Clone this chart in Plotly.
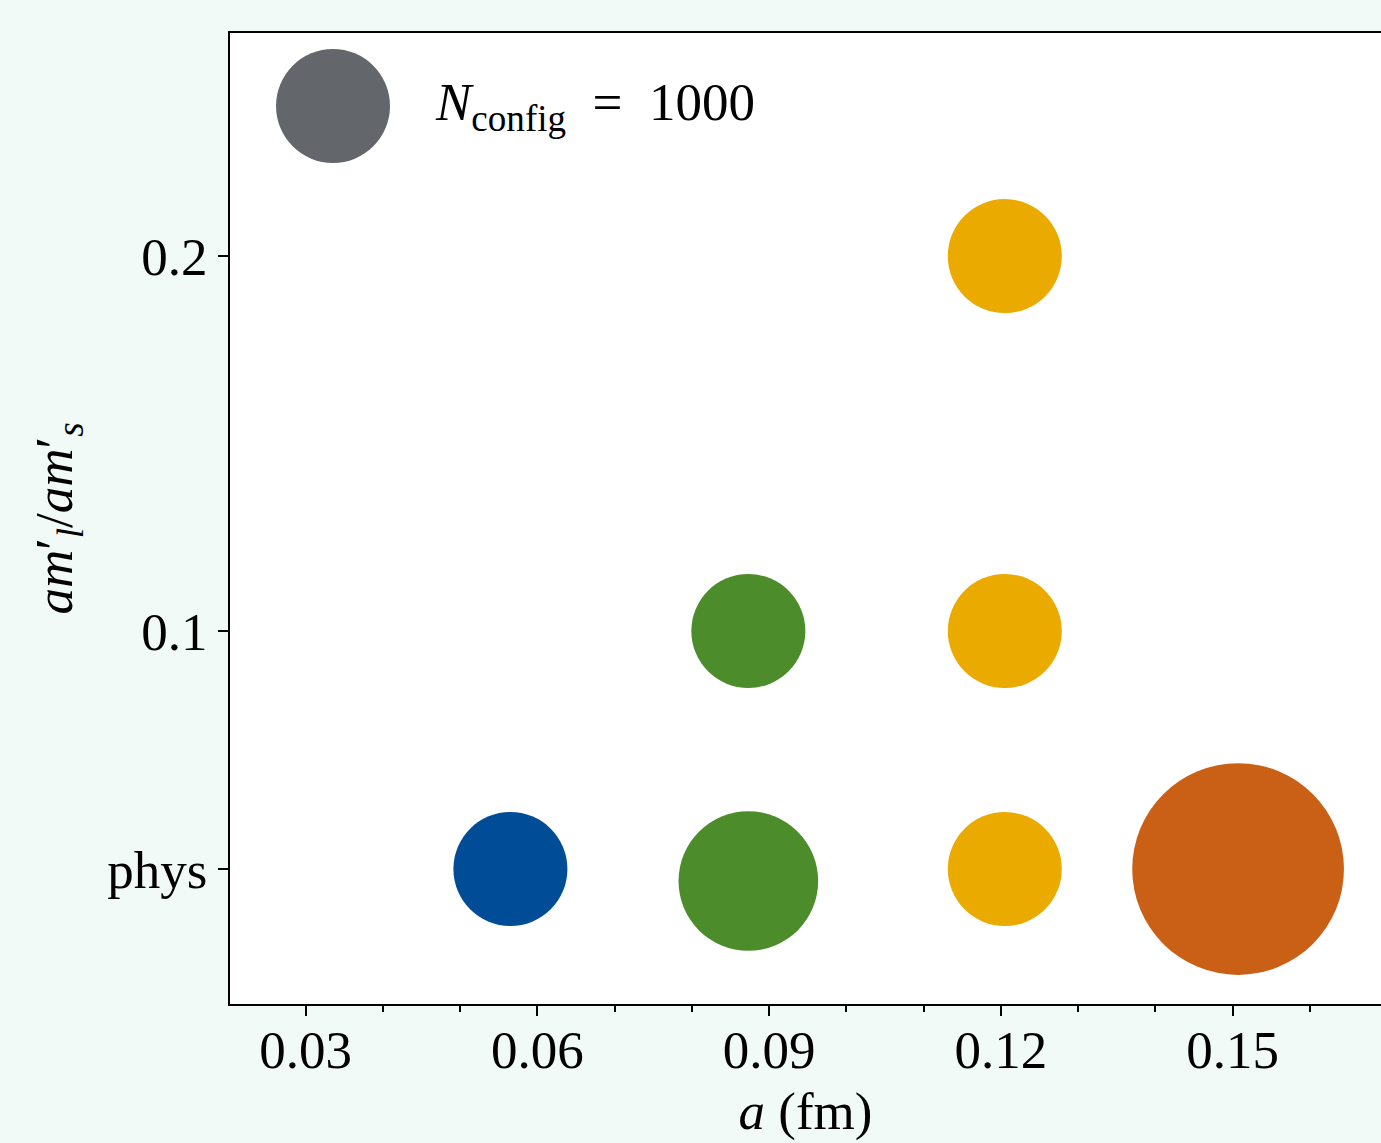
import plotly.graph_objects as go

# ---- data ----
PHYS = 0.0365
groups = ["a0.06", "a0.09", "a0.12", "a0.15"]
colors = ["#004c97", "#4c8c2b", "#eaaa00", "#ca6015"]
a_vals = [[0.0565], [0.0873, 0.0873], [0.1205, 0.1205, 0.1205], [0.1507]]
ratio_vals = [[PHYS], [0.1, 0.0333], [0.2, 0.1, PHYS], [PHYS]]
n_config = [[1000], [1000, 1500], [1000, 1000, 1000], [3450]]

ytick_vals = [PHYS, 0.1, 0.2]
ytick_text = ["phys", "0.1", "0.2"]
legend_n = 1000

FONT = "Liberation Serif"
FS = 53
SIZEREF = 2 * 1000 / 114 ** 2

fig = go.Figure()
for g, c, xs, ys, ns in zip(groups, colors, a_vals, ratio_vals, n_config):
    fig.add_trace(go.Scatter(
        x=xs, y=ys, mode="markers", name=g, showlegend=False,
        marker=dict(color=c, size=ns, sizemode="area", sizeref=SIZEREF,
                    line=dict(width=0), opacity=1),
        cliponaxis=False,
    ))

# manual legend entry
r_leg = (legend_n / (2 * SIZEREF)) ** 0.5
fig.add_shape(type="circle", xref="paper", yref="paper",
              xsizemode="pixel", ysizemode="pixel",
              xanchor=0.0895, yanchor=0.9248,
              x0=-r_leg, x1=r_leg, y0=-r_leg, y1=r_leg,
              fillcolor="#63666a", line=dict(width=0), layer="above")
fig.add_annotation(xref="paper", yref="paper", x=0.1764, y=0.9248,
                   xanchor="left", yanchor="middle", showarrow=False,
                   text=f"<i>N</i><sub>config</sub>  =  {legend_n}",
                   font=dict(family=FONT, size=FS, color="black"))

fig.update_layout(
    width=1381, height=1143,
    margin=dict(l=230, r=0, t=33, b=139),
    paper_bgcolor="#f2faf8",
    plot_bgcolor="white",
    font=dict(family=FONT, size=FS, color="black"),
    xaxis=dict(
        range=[0.0202, 0.1692], tick0=0, dtick=0.03,
        showgrid=False, zeroline=False,
        showline=True, linecolor="black", linewidth=2, mirror=True,
        ticks="outside", ticklen=10, tickwidth=1.8, tickcolor="black",
        minor=dict(dtick=0.01, tick0=0, ticks="outside", ticklen=6,
                   tickwidth=1.5, tickcolor="black", showgrid=False),
        tickfont=dict(family=FONT, size=FS),
        ticklabelstandoff=-12,
        title=dict(text="<i>a</i> (fm)", font=dict(family=FONT, size=FS), standoff=14),
    ),
    yaxis=dict(
        range=[0.0005, 0.2595],
        tickvals=ytick_vals, ticktext=ytick_text,
        showgrid=False, zeroline=False,
        showline=True, linecolor="black", linewidth=2, mirror=False,
        ticks="outside", ticklen=10, tickwidth=1.8, tickcolor="black",
        tickfont=dict(family=FONT, size=FS),
        title=dict(text="<i>am</i>′<sub><i>l</i></sub>/<i>am</i>′<sub><i>s</i></sub>",
                   font=dict(family=FONT, size=FS), standoff=18),
    ),
)

fig.write_html("out.html", config={"displayModeBar": False},
               post_script="document.body.style.margin='0';document.body.style.overflow='hidden';")
